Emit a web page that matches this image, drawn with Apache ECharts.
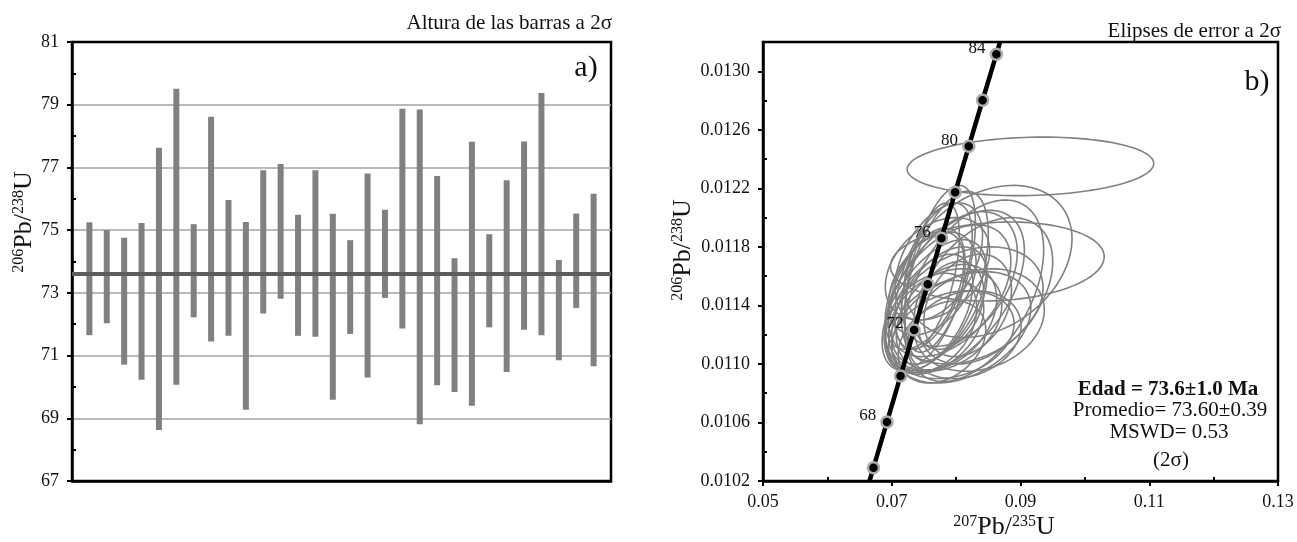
<!DOCTYPE html>
<html><head><meta charset="utf-8">
<script src="https://cdn.jsdelivr.net/npm/echarts@6/dist/echarts.min.js"></script>
<style>html,body{margin:0;padding:0;background:#fff}#c{width:1297px;height:542px}</style>
</head><body><div id="c"></div>
<script>
var FONT = '"Liberation Serif","Times New Roman",Times,serif';

// ---------- Panel a: 206Pb/238U ages with 2-sigma bars ----------
var sampleIndex = [1,2,3,4,5,6,7,8,9,10,11,12,13,14,15,16,17,18,19,20,21,22,23,24,25,26,27,28,29,30];
var barHigh = [75.25,75.00,74.76,75.23,77.63,79.51,75.19,78.62,75.96,75.26,76.91,77.11,75.49,76.91,75.52,74.68,76.81,75.65,78.87,78.85,76.73,74.10,77.82,74.87,76.59,77.83,79.37,74.05,75.53,76.16];
var barLow  = [71.65,72.03,70.71,70.23,68.63,70.07,72.22,71.45,71.63,69.27,72.34,72.81,71.63,71.60,69.59,71.69,70.30,72.84,71.86,68.81,70.05,69.84,69.40,71.90,70.48,71.82,71.65,70.85,72.52,70.66];
var meanAge = 73.6;
var ageTicks = [67,69,71,73,75,77,79,81];
var ageMinorTicks = [68,70,72,74,76,78,80];
var sampleAxisRange = [0, 31];

// ---------- Panel b: concordia with 2-sigma error ellipses ----------
var ellipseCx  = [0.09155,0.0864,0.0850,0.0775,0.0785,0.0828,0.0765,0.0820,0.0790,0.0774,0.0763,0.0783,0.0808,0.0795,0.0769,0.0758,0.0760,0.0836,0.0751,0.0789,0.0771,0.0813,0.0778,0.0845,0.0766,0.0818,0.0798,0.0773,0.0752,0.0785,0.0805,0.0760];
var ellipseCy  = [0.01235,0.01170,0.01170,0.01165,0.01160,0.01150,0.01160,0.01140,0.01150,0.01140,0.01155,0.01130,0.01125,0.01120,0.01125,0.01135,0.01160,0.01130,0.01150,0.01140,0.01165,0.01120,0.01115,0.01150,0.01140,0.01140,0.01150,0.01170,0.01145,0.01132,0.01158,0.01128];
var ellipseSx  = [0.01915,0.0166,0.0130,0.0055,0.0065,0.0108,0.0060,0.0115,0.0095,0.0074,0.0068,0.0088,0.0108,0.0095,0.0074,0.0068,0.0045,0.0101,0.0061,0.0054,0.0081,0.0088,0.0068,0.0105,0.0081,0.0068,0.0108,0.0068,0.0062,0.0078,0.0090,0.0072];
var ellipseSy  = [0.00020,0.00027,0.00052,0.00057,0.00058,0.00062,0.00050,0.00040,0.00045,0.00040,0.00035,0.00035,0.00038,0.00030,0.00032,0.00040,0.00050,0.00035,0.00040,0.00030,0.00035,0.00030,0.00028,0.00050,0.00045,0.00035,0.00055,0.00040,0.00048,0.00036,0.00046,0.00034];
var ellipseRho = [0.10,0.12,0.30,0.55,0.50,0.45,0.55,0.30,0.45,0.50,0.40,0.30,0.35,0.25,0.40,0.50,0.55,0.20,0.50,0.30,0.35,0.20,0.30,0.40,0.55,0.30,0.50,0.45,0.50,0.35,0.40,0.30];

var concordiaAge = [66,68,70,72,74,76,78,80,82,84];
var concordiaX = [0.06716,0.06926,0.07137,0.07348,0.07560,0.07772,0.07985,0.08197,0.08411,0.08625];
var concordiaY = [0.010291,0.010604,0.010918,0.011232,0.011545,0.011859,0.012173,0.012487,0.012802,0.013116];
var concordiaLabelAges = [68,72,76,80,84];
var curveStart = [0.06655, 0.0102];
var curveEnd = [0.08682, 0.0132];

var ratioYTicks = [0.0102,0.0106,0.0110,0.0114,0.0118,0.0122,0.0126,0.0130];
var ratioYMinor = [0.0104,0.0108,0.0112,0.0116,0.0120,0.0124,0.0128];
var ratioXTicks = [0.05,0.07,0.09,0.11,0.13];
var ratioXMinor = [0.06,0.08,0.10,0.12];

// ---------- build ----------
var barData = sampleIndex.map(function(s,i){ return [s, barLow[i], barHigh[i]]; });
var ellipseData = ellipseCx.map(function(c,i){ return [c, ellipseCy[i], ellipseSx[i], ellipseSy[i], ellipseRho[i]]; });
var concordiaPts = concordiaX.map(function(x,i){ return [x, concordiaY[i], concordiaAge[i]]; });
var curveData = [curveStart].concat(concordiaPts.map(function(p){return [p[0],p[1]];})).concat([curveEnd]);

var axisLineStyle = {color:'#000', width:2.5};
var tickStyle = {color:'#000', width:2};
var labelStyle = {fontFamily:FONT, fontSize:18, color:'#111'};

var supRich = {
  s:{fontFamily:FONT, fontSize:16, fill:'#111', color:'#111', verticalAlign:'top'},
  b:{fontFamily:FONT, fontSize:26, fill:'#111', color:'#111'}
};

var chart = echarts.init(document.getElementById('c'), null, {renderer:'canvas'});
chart.setOption({
  animation:false,
  backgroundColor:'#fff',
  grid:[
    {left:72, top:42, width:539, height:439, show:true, borderColor:'#000', borderWidth:2.5, backgroundColor:'transparent'},
    {left:763, top:42, width:515, height:439, show:true, borderColor:'#000', borderWidth:2.5, backgroundColor:'transparent'}
  ],
  xAxis:[
    {gridIndex:0, type:'value', min:sampleAxisRange[0], max:sampleAxisRange[1],
     axisLine:{show:true, onZero:false, lineStyle:axisLineStyle}, axisTick:{show:false}, axisLabel:{show:false}, splitLine:{show:false}},
    {gridIndex:1, type:'value', min:0.05, max:0.13, position:'bottom',
     axisLine:{show:true, onZero:false, lineStyle:axisLineStyle},
     axisTick:{show:true, customValues:ratioXTicks, length:5, lineStyle:tickStyle},
     axisLabel:Object.assign({customValues:ratioXTicks, margin:12, formatter:function(v){return (+v).toFixed(2);}}, labelStyle),
     splitLine:{show:false}},
    {gridIndex:1, type:'value', min:0.05, max:0.13, position:'bottom',
     axisLine:{show:false}, axisTick:{show:true, customValues:ratioXMinor, inside:true, length:4, lineStyle:tickStyle},
     axisLabel:{show:false}, splitLine:{show:false}}
  ],
  yAxis:[
    {gridIndex:0, type:'value', min:67, max:81,
     axisLine:{show:true, onZero:false, lineStyle:axisLineStyle},
     axisTick:{show:true, customValues:ageTicks, length:5, lineStyle:tickStyle},
     axisLabel:Object.assign({customValues:ageTicks, margin:13}, labelStyle),
     splitLine:{show:true, showMinLine:false, showMaxLine:false, lineStyle:{color:'#a3a3a3', width:1.5}}},
    {gridIndex:0, type:'value', min:67, max:81, position:'left',
     axisLine:{show:false}, axisTick:{show:true, customValues:ageMinorTicks, inside:true, length:4, lineStyle:tickStyle},
     axisLabel:{show:false}, splitLine:{show:false}},
    {gridIndex:1, type:'value', min:0.0102, max:0.0132,
     axisLine:{show:true, onZero:false, lineStyle:axisLineStyle},
     axisTick:{show:true, customValues:ratioYTicks, length:5, lineStyle:tickStyle},
     axisLabel:Object.assign({customValues:ratioYTicks, margin:13, formatter:function(v){return (+v).toFixed(4);}}, labelStyle),
     splitLine:{show:false}},
    {gridIndex:1, type:'value', min:0.0102, max:0.0132, position:'left',
     axisLine:{show:false}, axisTick:{show:true, customValues:ratioYMinor, inside:true, length:4, lineStyle:tickStyle},
     axisLabel:{show:false}, splitLine:{show:false}}
  ],
  series:[
    {type:'custom', xAxisIndex:0, yAxisIndex:0, data:barData, z:3,
     encode:{x:0, y:[1,2]},
     renderItem:function(params, api){
       var x = api.value(0), lo = api.value(1), hi = api.value(2);
       var p1 = api.coord([x, hi]), p2 = api.coord([x, lo]);
       var w = 6;
       return {type:'rect', shape:{x:p1[0]-w/2, y:p1[1], width:w, height:p2[1]-p1[1]}, style:{fill:'#808080'}};
     }},
    {type:'line', xAxisIndex:0, yAxisIndex:0, z:4, symbol:'none',
     data:[[sampleAxisRange[0], meanAge],[sampleAxisRange[1], meanAge]],
     lineStyle:{color:'#5c5c5c', width:4}},
    {type:'custom', xAxisIndex:1, yAxisIndex:2, data:ellipseData, z:3,
     encode:{x:0, y:1},
     renderItem:function(params, api){
       var cx = api.value(0), cy = api.value(1), sx = api.value(2), sy = api.value(3), r = api.value(4);
       var k = Math.sqrt(1 - r*r), n = 120, pts = [];
       for (var i = 0; i < n; i++) {
         var t = 2*Math.PI*i/n;
         pts.push(api.coord([cx + sx*Math.cos(t), cy + sy*(r*Math.cos(t) + k*Math.sin(t))]));
       }
       return {type:'polygon', shape:{points:pts}, style:{fill:'none', stroke:'#808080', lineWidth:1.6}};
     }},
    {type:'line', xAxisIndex:1, yAxisIndex:2, z:5, symbol:'none', data:curveData,
     lineStyle:{color:'#000', width:4.5}},
    {type:'scatter', xAxisIndex:1, yAxisIndex:2, z:6, data:concordiaPts,
     symbol:'circle', symbolSize:11,
     itemStyle:{color:'#000', borderColor:'#ababab', borderWidth:2.5, opacity:1},
     label:{show:true, position:'left', distance:4, offset:[0,-6], fontFamily:FONT, fontSize:17, color:'#111',
            formatter:function(p){ return concordiaLabelAges.indexOf(p.value[2]) >= 0 ? String(p.value[2]) : ''; }}}
  ],
  graphic:[
    {type:'text', x:612, y:23, style:{text:'Altura de las barras a 2σ', fontFamily:FONT, fontSize:21, fill:'#111', textAlign:'right', textVerticalAlign:'middle', align:'right', verticalAlign:'middle'}},
    {type:'text', x:1281, y:31, style:{text:'Elipses de error a 2σ', fontFamily:FONT, fontSize:21, fill:'#111', textAlign:'right', textVerticalAlign:'middle', align:'right', verticalAlign:'middle'}},
    {type:'text', x:586, y:68, style:{text:'a)', fontFamily:FONT, fontSize:30, fill:'#111', textAlign:'center', textVerticalAlign:'middle', align:'center', verticalAlign:'middle'}},
    {type:'text', x:1257, y:82, style:{text:'b)', fontFamily:FONT, fontSize:30, fill:'#111', textAlign:'center', textVerticalAlign:'middle', align:'center', verticalAlign:'middle'}},
    {type:'text', x:1168, y:390, style:{text:'Edad = 73.6±1.0 Ma', fontFamily:FONT, fontSize:21, fontWeight:'bold', fill:'#111', textAlign:'center', textVerticalAlign:'middle', align:'center', verticalAlign:'middle'}},
    {type:'text', x:1170, y:410, style:{text:'Promedio= 73.60±0.39', fontFamily:FONT, fontSize:21, fill:'#111', textAlign:'center', textVerticalAlign:'middle', align:'center', verticalAlign:'middle'}},
    {type:'text', x:1169, y:432, style:{text:'MSWD= 0.53', fontFamily:FONT, fontSize:21, fill:'#111', textAlign:'center', textVerticalAlign:'middle', align:'center', verticalAlign:'middle'}},
    {type:'text', x:1171, y:460, style:{text:'(2σ)', fontFamily:FONT, fontSize:21, fill:'#111', textAlign:'center', textVerticalAlign:'middle', align:'center', verticalAlign:'middle'}},
    {type:'text', x:24, y:222, rotation:Math.PI/2, style:{text:'{s|206}{b|Pb/}{s|238}{b|U}', rich:supRich, textAlign:'center', textVerticalAlign:'middle', align:'center', verticalAlign:'middle'}},
    {type:'text', x:683, y:250, rotation:Math.PI/2, style:{text:'{s|206}{b|Pb/}{s|238}{b|U}', rich:supRich, textAlign:'center', textVerticalAlign:'middle', align:'center', verticalAlign:'middle'}},
    {type:'text', x:1004, y:527, style:{text:'{s|207}{b|Pb/}{s|235}{b|U}', rich:supRich, textAlign:'center', textVerticalAlign:'middle', align:'center', verticalAlign:'middle'}}
  ]
});
</script></body></html>
